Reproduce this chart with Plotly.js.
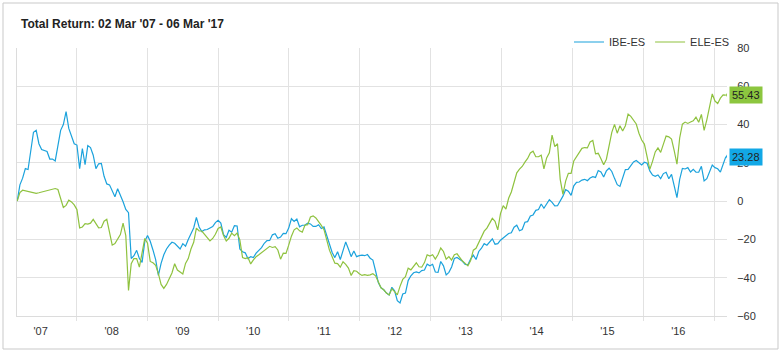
<!DOCTYPE html>
<html>
<head>
<meta charset="utf-8">
<script src="https://cdn.plot.ly/plotly-3.0.1.min.js"></script>
<style>
html,body{margin:0;padding:0;background:#fff;}
#chart{width:781px;height:352px;}
</style>
</head>
<body>
<div id="chart"></div>
<script>
// Series names
const seriesNames = ['IBE-ES', 'ELE-ES'];

// Sampling: one reading every 14 days starting 02 Mar 2007
const startDate = '2007-03-02';
const stepDays = 14;

// Total return (%)
const ibe = [
  0, 8.5, 12, 17, 16.5, 26, 36, 37, 30, 27,
  26.5, 25.9, 22, 22, 21, 29, 37, 40, 46.8, 38,
  34, 30, 29.3, 17, 27.5, 19, 29, 28, 24, 17,
  19.5, 19.7, 13, 9, 8.5, 5.5, 2.3, 6.5, 3.5, -0.3,
  -4.3, -6, -30, -28.5, -25.7, -30, -32, -21, -18, -21,
  -25.5, -30.5, -38.8, -32.5, -28, -25, -23, -21.5, -22, -23.5,
  -25, -22.2, -23.5, -20, -17, -14,
  -8.5, -13.5, -15.9, -15, -14.8, -14.1, -13.3, -11.2, -10, -11.5,
  -17.5, -19, -15.2, -16.2, -12.8, -13, -25, -26.4, -27, -30,
  -29, -29.5, -27.2, -25.7, -24.3, -22, -20.6, -20.5, -17.6, -17,
  -19.4, -18.8, -16.9, -17, -14.1, -9.2, -10.6, -9.3, -13.4, -12.6,
  -12.5, -11.5, -11.9, -13.2, -13.2, -12.3, -14.3, -13.5, -17.8, -22,
  -26.8, -29.5, -26.4, -30.5, -25.5, -21.3, -25, -29, -26, -29,
  -28.5, -28.2, -28.5, -27.9, -29.8, -30.8,
  -36.5, -42.5, -45.3, -46.3, -48, -49, -45, -46.8, -52, -53.2,
  -48.5, -48, -41.5, -39, -37.4, -37, -37.5, -36.3, -36, -32.9,
  -33.8, -33, -37, -37.2, -31.5, -33.8, -38.5, -37.2, -34.4, -30,
  -29.4, -30.3, -31.4, -33.1, -33.2, -30.3, -28.2, -30.5, -26.3, -24.6,
  -22.2, -23, -21.2, -19.7, -22.5, -22.2, -20.4, -19.3, -18, -16.9,
  -16.5, -13.6, -12.6, -15.5, -14.8, -11, -10.7, -7.8, -7.2, -4.8,
  -4.4, -1.5, -3.7, -1.5, 0.8, -0.6,
  -2.5, -2.4, -0.2, 2.6, 6, 5.2, 3, 8, 9.8, 10,
  11, 11.4, 10.7, 12.1, 12.8, 12.4, 16, 15.2, 12.6, 15.8,
  17.2, 15.5, 11.9, 8.6, 7.7, 12.6, 16.5, 16.6, 18.8, 20.5,
  21.2, 19.8, 18.9, 20.3, 19.8, 15.8, 13.6, 13, 13.7, 11.8,
  14.4, 15.1, 11.7, 14, 7.7, 1.8, 11.4, 17.1, 16.8, 17.5,
  15.2, 16.6, 15.1, 15.1, 18.2, 10.6, 11.7, 15.5, 18.8, 17.5,
  16.9, 15.2, 19.5, 23.28
];

const ele = [
  0, 4.5, 5.7, 5.4, 4.9, 4.9, 4.5, 4.1, 4.4, 4.8,
  5, 5.2, 5.6, 6.1, 6.6, 6.1, 1, -3.3, -2.2, 0.5,
  -0.4, -2, -4.4, -14, -13.5, -11.8, -12, -11.5, -9.5, -11.8,
  -14, -13.8, -10.5, -9.5, -16.5, -23, -22.2, -19.5, -17.5, -11.5,
  -18, -46.6, -32.7, -30, -30, -34.5, -27, -19.5, -22, -31.5,
  -32.2, -33.5, -37.9, -43.5, -45.6, -43.5, -40.5, -37.5, -32.7, -36,
  -37, -38, -32.5, -30, -25, -21.5,
  -14.1, -15.5, -15.6, -17.6, -19, -20.8, -19.5, -17.3, -14.3, -13.5,
  -18, -20.8, -19.4, -16.7, -18, -16.7, -20.3, -29.5, -30, -29.5,
  -32.8, -30.7, -29, -28, -26.8, -25.8, -24.7, -23.6, -24.2, -23.8,
  -25.5, -30.3, -27.2, -27.3, -23, -18.3, -15, -14, -15.5, -16.2,
  -12.5, -12.3, -8.3, -7.7, -8.8, -10.6, -12.7, -14.9, -20.5, -25.6,
  -29, -32.4, -32.6, -34.5, -31.7, -33, -35, -38.8, -36.3, -36.6,
  -37.9, -38.8, -38.4, -38.8, -38.5, -37.9,
  -39, -42.4, -45.3, -46.3, -48, -49, -45.8, -47.3, -49, -44.5,
  -40.9, -39.5, -35, -35.9, -33.8, -32.2, -34.3, -34.5, -32.1, -28,
  -28.7, -28, -30.3, -27.9, -24.5, -26.3, -30.3, -29, -30.8, -28,
  -27.5, -29.6, -31.3, -32.5, -33.8, -31, -25.6, -24.6, -21.5, -18.9,
  -15.7, -14.1, -11.8, -9, -10.5, -15, -6.5, -2.4, -4.2, 1.5,
  4.8, 9.3, 14.8, 16.7, 18.1, 20.4, 22.3, 25.2, 26.1, 23.2,
  23.2, 24, 16.8, 22.6, 25.2, 34.5,
  28.5, 30, 11.4, 3.5, 10.5, 14.5, 14.5, 21, 23.2, 26.1,
  27.6, 28, 27.8, 30.9, 31.7, 24.7, 25, 22.2, 19, 21.9,
  28.4, 35.9, 40.1, 35.5, 39.4, 36.6, 39.4, 45.5, 44.3, 42.4,
  40.3, 35.5, 31.9, 29.8, 23.8, 16.6, 20.8, 25.7, 27.8, 25.5,
  29.8, 34, 33.6, 32.4, 26.3, 19.3, 33, 40.2, 41.3, 40.6,
  41.3, 42, 43.9, 41.2, 45.3, 37, 42.5, 49.5, 56, 52.3,
  51, 53.8, 55.5, 55.43
];

// Axis ticks
const yearLabelDates = ['2007-07-01','2008-07-01','2009-07-01','2010-07-01','2011-07-01','2012-07-01','2013-07-01','2014-07-01','2015-07-01','2016-07-01'];
const yearLabels = ["'07","'08","'09","'10","'11","'12","'13","'14","'15","'16"];
const yearStarts = ['2008-01-01','2009-01-01','2010-01-01','2011-01-01','2012-01-01','2013-01-01','2014-01-01','2015-01-01','2016-01-01','2017-01-01'];
const yTicks = [-60, -40, -20, 0, 20, 40, 60, 80];
const yGrid = [-40, -20, 0, 20, 40, 60];
const xRange = ['2007-03-01', '2017-03-09'];
const yRange = [-60, 80];
const titleText = "Total Return: 02 Mar '07 - 06 Mar '17";

// Build the date list (the chart's time axis)
const dates = [];
{
  const t0 = Date.parse(startDate + 'T00:00:00Z');
  for (let i = 0; i < ibe.length; i++) {
    dates.push(new Date(t0 + i * stepDays * 86400000).toISOString().slice(0, 10));
  }
}

const BLUE = '#1ba2dc', GREEN = '#8fc23f';
const BLUE_TAG = '#12a8e6', GREEN_TAG = '#8cc63f';
const FONT = 'Liberation Sans, Arial, sans-serif';

const lastDate = dates[dates.length - 1];
const lastIbe = ibe[ibe.length - 1];
const lastEle = ele[ele.length - 1];

const traces = [
  {x: dates, y: ibe, name: seriesNames[0], type: 'scatter', mode: 'lines',
   line: {color: BLUE, width: 1.2}, hoverinfo: 'skip'},
  {x: dates, y: ele, name: seriesNames[1], type: 'scatter', mode: 'lines',
   line: {color: GREEN, width: 1.2}, hoverinfo: 'skip'},
  {x: [], y: [], xaxis: 'x2', yaxis: 'y2', showlegend: false, hoverinfo: 'skip', type: 'scatter'}
];

// pixel geometry helpers for paper-ref decorations
const L = 17, R = 54, T = 48, B = 36, W = 781, H = 352;
const pw = W - L - R, ph = H - T - B;
const px = v => (v - L) / pw;
const py = v => (H - B - v) / ph;

function tag(x, y, val, col) {
  return {
    x: x, y: y, xref: 'x', yref: 'y', text: val.toFixed(2), showarrow: false,
    xanchor: 'left', yanchor: 'middle', xshift: 3, bgcolor: col, borderpad: 2,
    font: {family: FONT, size: 11, color: '#222'}
  };
}
function pointer(x, y, col) {
  return {
    type: 'path', xref: 'x', yref: 'y', xsizemode: 'pixel', ysizemode: 'pixel',
    xanchor: x, yanchor: y, path: 'M0,0L5,-8.5L5,8.5Z',
    fillcolor: col, line: {width: 0}, layer: 'above'
  };
}

const layout = {
  width: W, height: H,
  margin: {l: L, r: R, t: T, b: B, pad: 0},
  paper_bgcolor: '#fff', plot_bgcolor: '#fff',
  font: {family: FONT, size: 11, color: '#333'},
  title: {
    text: '<b>' + titleText + '</b>',
    font: {family: FONT, size: 12, color: '#222'},
    x: 21 / W, xref: 'container', xanchor: 'left',
    y: 1 - 24 / H, yref: 'container', yanchor: 'middle'
  },
  showlegend: true,
  legend: {
    orientation: 'h', x: px(735), xanchor: 'right', y: py(42), yanchor: 'middle',
    font: {family: FONT, size: 11, color: '#333'}, bgcolor: 'rgba(0,0,0,0)',
    itemwidth: 30, traceorder: 'normal'
  },
  xaxis: {
    type: 'date', range: xRange, tickmode: 'array', tickvals: yearLabelDates, ticktext: yearLabels,
    showgrid: false, zeroline: false, showline: true, linecolor: '#dcdcdc', linewidth: 1,
    ticks: 'outside', ticklen: 5, tickcolor: 'rgba(0,0,0,0)',
    tickfont: {family: FONT, size: 11, color: '#333'}, fixedrange: true
  },
  xaxis2: {
    type: 'date', range: xRange, overlaying: 'x', anchor: 'y', side: 'bottom',
    tickmode: 'array', tickvals: yearStarts, showticklabels: false,
    showgrid: true, gridcolor: '#e2e2e2', gridwidth: 1, zeroline: false, showline: false,
    ticks: 'outside', ticklen: 4, tickcolor: '#e2e2e2', fixedrange: true
  },
  yaxis: {
    side: 'right', range: yRange, tickmode: 'array', tickvals: yTicks,
    showgrid: false, zeroline: false, showline: false,
    ticks: 'outside', ticklen: 7, tickcolor: 'rgba(0,0,0,0)',
    tickfont: {family: FONT, size: 11, color: '#333'}, fixedrange: true
  },
  yaxis2: {
    overlaying: 'y', side: 'left', anchor: 'x', range: yRange, tickmode: 'array', tickvals: yGrid,
    showticklabels: false, showgrid: true, gridcolor: '#e2e2e2', gridwidth: 1,
    zeroline: false, showline: true, linecolor: '#dcdcdc', ticks: '', fixedrange: true
  },
  shapes: [
    {type: 'rect', xref: 'paper', yref: 'paper', x0: px(3), x1: px(778), y0: py(349), y1: py(3),
     line: {color: '#c9c9c9', width: 1}, fillcolor: 'rgba(0,0,0,0)', layer: 'below'},
    pointer(lastDate, lastEle, GREEN_TAG),
    pointer(lastDate, lastIbe, BLUE_TAG)
  ],
  annotations: [
    tag(lastDate, lastEle, lastEle, GREEN_TAG),
    tag(lastDate, lastIbe, lastIbe, BLUE_TAG)
  ]
};

Plotly.newPlot('chart', traces, layout, {staticPlot: true, displayModeBar: false});
</script>
</body>
</html>
